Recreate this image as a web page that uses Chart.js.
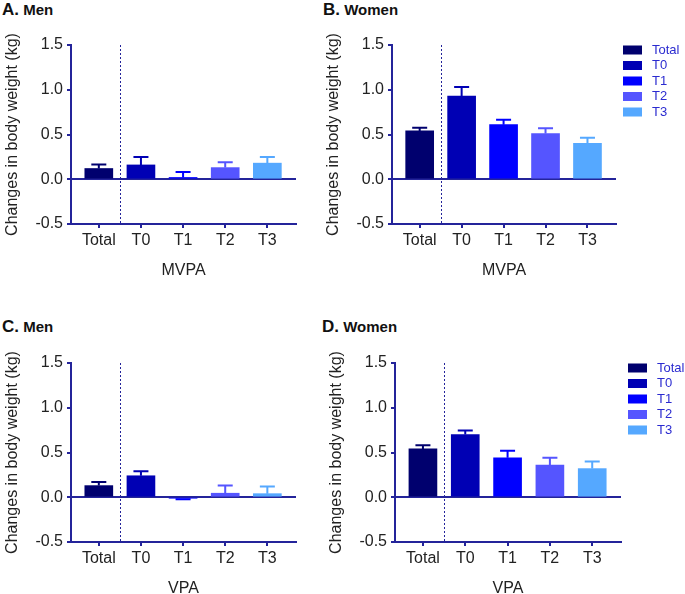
<!DOCTYPE html>
<html>
<head>
<meta charset="utf-8">
<script src="https://cdn.jsdelivr.net/npm/chart.js@4.4.1/dist/chart.umd.min.js"></script>
<style>
  html, body { margin: 0; padding: 0; background: #fff; width: 685px; height: 594px; overflow: hidden; }
  .panel { position: absolute; }
  .title { position: absolute; font-family: 'Liberation Sans', Arial, sans-serif; font-weight: bold; font-size: 15px; color: #111; white-space: nowrap; }
  .title span { font-size: 17px; }
</style>
</head>
<body>
<div class="title" style="left:2px;top:0px"><span>A.</span> Men</div>
<div class="title" style="left:323px;top:0px"><span>B.</span> Women</div>
<div class="title" style="left:2px;top:317px"><span>C.</span> Men</div>
<div class="title" style="left:322px;top:317px"><span>D.</span> Women</div>

<div class="panel" style="left:0px;top:0px"><canvas id="chartA" width="321" height="290"></canvas></div>
<div class="panel" style="left:321px;top:0px"><canvas id="chartB" width="364" height="290"></canvas></div>
<div class="panel" style="left:0px;top:318px"><canvas id="chartC" width="321" height="290"></canvas></div>
<div class="panel" style="left:324px;top:318px"><canvas id="chartD" width="361" height="290"></canvas></div>

<script>
// categories and tick labels
const categories = ['Total', 'T0', 'T1', 'T2', 'T3'];
const yTicks = [-0.5, 0, 0.5, 1.0, 1.5];

// mean change in body weight (kg) and SE
const menMVPA = [0.12, 0.16, 0.02, 0.13, 0.18];
const menMVPASe = [0.045, 0.09, 0.06, 0.06, 0.07];
const womenMVPA = [0.54, 0.93, 0.61, 0.51, 0.40];
const womenMVPASe = [0.035, 0.10, 0.055, 0.06, 0.065];
const menVPA = [0.13, 0.24, -0.01, 0.045, 0.04];
const menVPASe = [0.04, 0.05, 0.012, 0.085, 0.08];
const womenVPA = [0.54, 0.70, 0.44, 0.36, 0.32];
const womenVPASe = [0.04, 0.045, 0.08, 0.08, 0.08];

const barColors = ['#00006e', '#0000b4', '#0000ff', '#5555ff', '#55a8ff'];
const axisColor = '#24249a';
const textColor = '#222';
const fontFamily = "'Liberation Sans', Arial, sans-serif";

// upper (or lower, for negative bars) error bar with cap
const errorBars = {
  id: 'errorBars',
  afterDatasetsDraw(chart) {
    const { ctx, scales: { x, y } } = chart;
    ctx.save();
    ctx.lineWidth = 2;
    chart.data.datasets.forEach(ds => {
      const pt = ds.data[0];
      const px = x.getPixelForValue(pt.x);
      const y0 = y.getPixelForValue(pt.y);
      const y1 = y.getPixelForValue(pt.y + (pt.y < 0 ? -ds.se : ds.se));
      ctx.strokeStyle = ds.backgroundColor;
      ctx.beginPath();
      ctx.moveTo(px, y0);
      ctx.lineTo(px, y1);
      ctx.moveTo(px - 7.5, y1);
      ctx.lineTo(px + 7.5, y1);
      ctx.stroke();
    });
    ctx.restore();
  }
};

// dotted separator between Total and T0
const divider = {
  id: 'divider',
  afterDatasetsDraw(chart) {
    const { ctx, chartArea, scales: { x } } = chart;
    const px = Math.round(x.getPixelForValue(0.5)) + 0.5;
    ctx.save();
    ctx.strokeStyle = axisColor;
    ctx.lineWidth = 1;
    ctx.setLineDash([2, 2]);
    ctx.beginPath();
    ctx.moveTo(px, chartArea.top);
    ctx.lineTo(px, chartArea.bottom);
    ctx.stroke();
    ctx.restore();
  }
};

const sideLegend = {
  id: 'sideLegend',
  afterDraw(chart, args, opts) {
    if (!opts.display) return;
    const { ctx, chartArea } = chart;
    ctx.save();
    ctx.font = '13px ' + fontFamily;
    ctx.textBaseline = 'middle';
    chart.data.datasets.forEach((ds, i) => {
      const cy = chartArea.top + opts.offsetY + i * opts.rowGap;
      const sx = chartArea.right + opts.offsetX;
      ctx.fillStyle = ds.backgroundColor;
      ctx.fillRect(sx, cy - 4.5, 19, 9);
      ctx.fillStyle = '#2b2bd0';
      ctx.fillText(ds.label, sx + opts.textGap, cy);
    });
    ctx.restore();
  }
};

function makeChart(id, values, se, xTitle, legend, padRight) {
  const datasets = categories.map((c, i) => ({
    label: c,
    data: [{ x: i, y: values[i] }],
    se: se[i],
    backgroundColor: barColors[i],
    borderWidth: 0,
    barThickness: 28,
    grouped: false
  }));

  return new Chart(document.getElementById(id), {
    type: 'bar',
    data: { datasets },
    plugins: [errorBars, divider, sideLegend],
    options: {
      responsive: false,
      animation: false,
      layout: { padding: { top: 45, right: padRight, bottom: 0, left: 0 } },
      plugins: {
        legend: { display: false },
        tooltip: { enabled: false },
        sideLegend: { display: legend, offsetX: 7, offsetY: 5, rowGap: 15.5, textGap: 29 }
      },
      scales: {
        x: {
          type: 'linear',
          min: -0.66,
          max: 4.68,
          offset: false,
          afterBuildTicks: s => { s.ticks = categories.map((c, i) => ({ value: i })); },
          afterFit: s => { s.height = 66; },
          ticks: {
            autoSkip: false,
            maxRotation: 0,
            padding: 3,
            color: textColor,
            font: { family: fontFamily, size: 16 },
            callback: v => categories[v]
          },
          grid: {
            offset: false,
            drawOnChartArea: false,
            drawTicks: true,
            tickLength: 4,
            lineWidth: 2,
            tickColor: axisColor
          },
          border: { display: true, color: axisColor, width: 2 },
          title: {
            display: true,
            text: xTitle,
            color: textColor,
            font: { family: fontFamily, size: 16 },
            padding: { top: 0, bottom: 10 }
          }
        },
        y: {
          min: -0.5,
          max: 1.5,
          afterBuildTicks: s => { s.ticks = yTicks.map(v => ({ value: v })); },
          afterFit: s => { s.width = 71; },
          ticks: {
            padding: 4,
            color: textColor,
            font: { family: fontFamily, size: 16 },
            callback: v => Number(v).toFixed(1)
          },
          grid: {
            drawOnChartArea: true,
            drawTicks: true,
            tickLength: 4,
            lineWidth: 2,
            color: ctx => (ctx.tick && ctx.tick.value === 0 ? axisColor : 'rgba(0,0,0,0)'),
            tickColor: axisColor
          },
          border: { display: true, color: axisColor, width: 2 },
          title: {
            display: true,
            text: 'Changes in body weight (kg)',
            color: textColor,
            font: { family: fontFamily, size: 16 },
            padding: { top: 3, bottom: 0 }
          }
        }
      }
    }
  });
}

makeChart('chartA', menMVPA, menMVPASe, 'MVPA', false, 25);
makeChart('chartB', womenMVPA, womenMVPASe, 'MVPA', true, 69);
makeChart('chartC', menVPA, menVPASe, 'VPA', false, 25);
makeChart('chartD', womenVPA, womenVPASe, 'VPA', true, 64);
</script>
</body>
</html>
